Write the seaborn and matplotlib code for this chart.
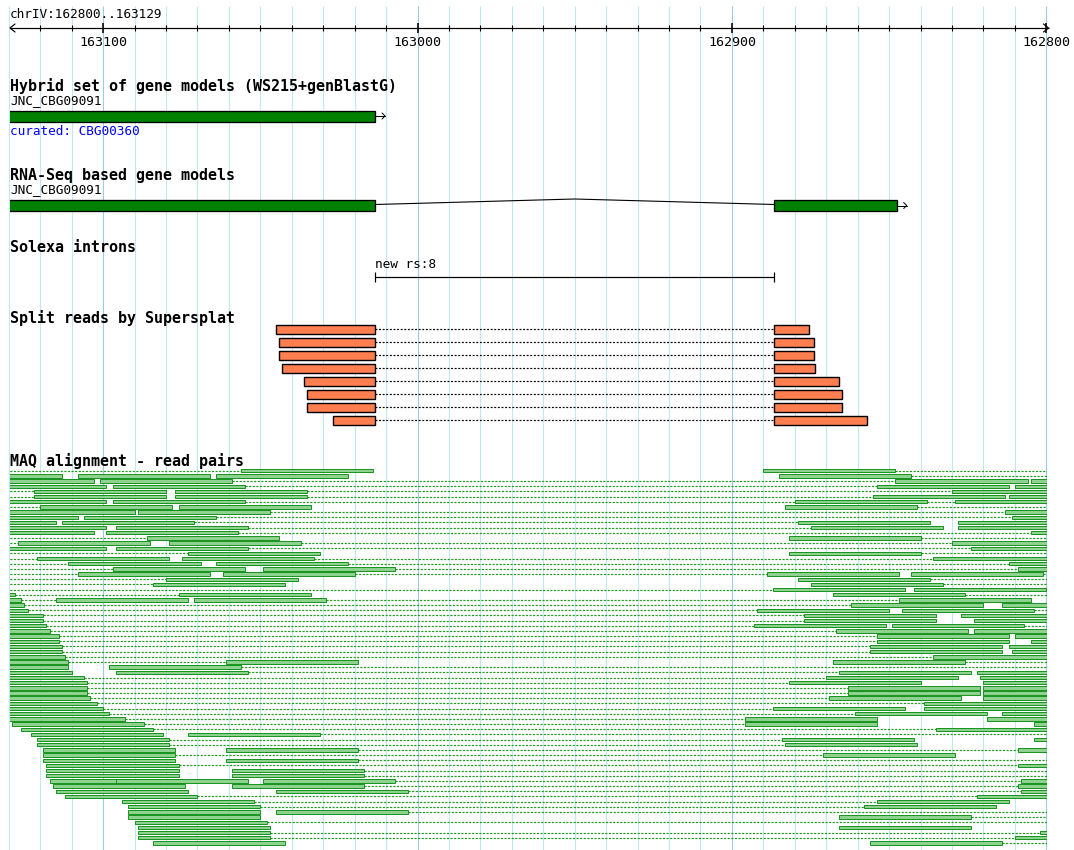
import numpy as np
import pandas as pd
import matplotlib
matplotlib.use("Agg")
import matplotlib.pyplot as plt
import seaborn as sns

# ---------------- data (genomic coordinates, chrIV, view shown reversed) ----------------
view_start = 163129.6          # left edge of the panel
view_end = 162799.8            # right edge of the panel
ruler_label = "chrIV:162800..163129"
major_ticks = [163100, 163000, 162900, 162800]
grid_positions = list(range(163130, 162799, -10))

track_titles = ["Hybrid set of gene models (WS215+genBlastG)", "RNA-Seq based gene models",
                "Solexa introns", "Split reads by Supersplat", "MAQ alignment - read pairs"]
gene_name = "JNC_CBG09091"
curated_note = "curated: CBG00360"

hybrid_exon_hi = [163140.0]
hybrid_exon_lo = [163013.5]
rnaseq_exon_hi = [163140.0, 162886.5]
rnaseq_exon_lo = [163013.5, 162847.6]

intron_name = "new rs:8"
intron_hi = 163013.5
intron_lo = 162886.5

split_left_start = [163045, 163044, 163044, 163043, 163036, 163035, 163035, 163027]
split_right_end = [162875.5, 162874, 162874, 162873.5, 162866, 162865, 162865, 162857]
split_donor = 163013.5
split_acceptor = 162886.5

read_length = 42
# MAQ reads: row index and the read's left (higher) coordinate
maq_read_row = (
    [0]*2 + [1]*4 + [2]*4 + [3]*4 + [4]*3 + [5]*4 + [6]*4 + [7]*3 + [8]*3 + [9]*3 +
    [10]*4 + [11]*4 + [12]*3 + [13]*2 + [14]*3 + [15]*3 + [16]*2 + [17]*3 + [18]*3 + [19]*3 +
    [20]*4 + [21]*2 + [22]*2 + [23]*2 + [24]*3 + [25]*4 + [26]*3 + [27]*3 + [28]*3 + [29]*3 +
    [30]*3 + [31]*3 + [32]*3 + [33]*3 + [34]*3 + [35]*3 + [36]*2 + [37]*3 + [38]*2 + [39]*4 +
    [40]*3 + [41]*3 + [42]*3 + [43]*3 + [44]*3 + [45]*2 + [46]*3 + [47]*3 + [48]*3 + [49]*3 +
    [50]*2 + [51]*2 + [52]*3 + [53]*2 + [54]*3 + [55]*2 + [56]*2 + [57]*2 + [58]*2 + [59]*2 +
    [60]*4 + [61]*3 + [62]*3 + [63]*2 + [64]*2 + [65]*2 + [66]*2 + [67]*2 + [68]*1 + [69]*2 +
    [70]*2 + [71]*2 + [72]*2
)
maq_read_end = [
    163056, 162890,
    163155, 163108, 163064, 162885,
    163145, 163101, 162848, 162805,
    163141, 163097, 162854, 162810,
    163122, 163077, 162830,
    163122, 163077, 162855, 162812,
    163141, 163097, 162880, 162829,
    163120, 163076, 162883,
    163132, 163089, 162813,
    163150, 163106, 162811,
    163157, 163113, 162879, 162828,
    163141, 163096, 162875, 162828,
    163145, 163099, 162805,
    163086, 162882,
    163127, 163079, 162830,
    163141, 163096, 162824,
    163073, 162882,
    163121, 163075, 162836,
    163111, 163064, 162812,
    163097, 163049, 162809,
    163108, 163062, 162889, 162843,
    163080, 162879,
    163084, 162875,
    162887, 162842,
    163170, 163076, 162868,
    163168, 163115, 163071, 162847,
    163167, 162862, 162814,
    163166, 162892, 162846,
    163161, 162877, 162827,
    163161, 162877, 162823,
    163160, 162893, 162849,
    163159, 162867, 162823,
    163156, 162854, 162810,
    163156, 162854, 162805,
    163155, 162856, 162812,
    163155, 162856, 162811,
    163154, 162836,
    163153, 163061, 162868,
    163153, 163098,
    163152, 163096, 162866, 162822,
    163148, 162870, 162821,
    163147, 162882, 162820,
    163147, 162863, 162820,
    163147, 162863, 162820,
    163146, 162869, 162820,
    163144, 162839,
    163142, 162887, 162839,
    163140, 162861, 162814,
    163135, 162896, 162819,
    163129, 162896, 162804,
    163126, 162835,
    163123, 163073,
    163121, 162884, 162804,
    163121, 162883,
    163119, 163061, 162809,
    163119, 162871,
    163119, 163061,
    163118, 162809,
    163118, 163059,
    163118, 163059,
    163117, 163096, 163049, 162808,
    163116, 163059, 162809,
    163115, 163045, 162808,
    163112, 162822,
    163094, 162854,
    163092, 162858,
    163092, 163045,
    163092, 162866,
    163090,
    163089, 162866,
    163089, 162802,
    163089, 162810,
    163084, 162856,
]
# MAQ mate links (dotted): row, higher coordinate, lower coordinate
maq_link_row = [0, 0, 1, 2, 3, 4, 4, 5, 5, 6, 6, 7, 7, 8, 9, 10, 11, 12, 13, 13, 14, 14, 15, 16, 16,
                17, 17, 18, 18, 19, 19, 20, 20, 20, 21, 21, 22, 22, 23, 24, 24, 25, 25, 26, 27, 27,
                28, 29, 30, 30, 31, 32, 33, 34, 35, 36, 37, 37, 38, 39, 40, 41, 42, 43, 44, 45, 46,
                47, 48, 49, 50, 51, 52, 53, 54, 55, 56, 57, 58, 59, 60, 61, 62, 63, 64, 65, 66, 67,
                68, 70, 71, 72]
maq_link_hi = [163135, 162848, 162843, 163059, 163055, 163135, 163035, 163135, 163035, 163055, 162838,
               163135, 162841, 163047, 163064, 163071, 163054, 163057, 163135, 162840, 163135, 163037,
               163054, 163135, 162840, 163135, 163033, 163135, 163022, 163135, 163007, 163135, 163020,
               162801, 163135, 162837, 163135, 162833, 163135, 163128, 162826, 163126, 163029, 163125,
               163124, 162804, 163119, 163119, 163118, 162807, 163117, 163114, 163114, 163113, 163113,
               163112, 163111, 162826, 163056, 163054, 163106, 163105, 163105, 163105, 163104, 163102,
               163100, 163098, 163093, 163087, 163084, 163031, 163079, 163079, 163019, 163077, 163019,
               163076, 163017, 163017, 163007, 163017, 163003, 163070, 163052, 163050, 163003, 162824,
               163048, 163047, 163047, 162814]
maq_link_lo = [163056, 162795, 162795, 162848, 162854, 163122, 162830, 163122, 162855, 162880, 162829,
               163120, 162795, 162813, 162811, 162879, 162875, 162805, 163086, 162795, 163127, 162830,
               162824, 163073, 162795, 163121, 162836, 163111, 162812, 163097, 162809, 163108, 162889,
               162795, 163080, 162795, 163084, 162795, 162887, 163076, 162795, 163115, 162847, 162862,
               162892, 162795, 162877, 162877, 162893, 162795, 162867, 162854, 162854, 162856, 162856,
               162836, 163061, 162795, 162795, 162866, 162870, 162882, 162863, 162863, 162869, 162839,
               162887, 162861, 162896, 162896, 162835, 162795, 162884, 162883, 162809, 162871, 162795,
               162809, 162795, 162795, 162808, 162809, 162808, 162822, 162854, 162858, 162795, 162795,
               162795, 162802, 162810, 162795]

# ---------------- styling / layout ----------------
sns.set_theme(style="white")
plt.rcParams['font.family'] = ['DejaVu Sans Mono', 'DejaVu Sans']

W, H = 1074, 850
fig = plt.figure(figsize=(W / 100, H / 100), dpi=100)
fig.patch.set_facecolor("white")
ax = fig.add_axes([10 / W, 0, 1037 / W, 1])
ax.set_xlim(view_start, view_end)
ax.set_ylim(H, 0)
ax.axis("off")
PX = (view_start - view_end) / 1037.0   # bp per pixel
LW = 0.72                               # one pixel in points

bold_fs = 10.8
small_fs = 9.2

# grid lines
for g in grid_positions:
    col = "#9ccbe8" if g % 100 == 0 else "#bfe9f0"
    ax.vlines(g, 6, H, colors=col, lw=1.1 * LW, zorder=0, clip_on=False)

# ruler
ry = 28
ax.hlines(ry, view_start, view_end - 1.5 * PX, colors="black", lw=LW * 1.2, clip_on=False, zorder=3)
ax.plot([view_start - 5 * PX, view_start, view_start - 5 * PX], [ry - 4, ry, ry + 4],
        color="black", lw=LW * 1.2, clip_on=False, zorder=3)
tip = view_end - 1.5 * PX
ax.plot([tip + 5 * PX, tip, tip + 5 * PX], [ry - 4, ry, ry + 4],
        color="black", lw=LW * 1.2, clip_on=False, zorder=3)
minor = [g for g in grid_positions if g % 100 != 0 and view_end < g < view_start]
ax.vlines(minor, ry - 3, ry + 3, colors="black", lw=LW * 1.1, zorder=3)
ax.vlines(major_ticks, ry - 5, ry + 5, colors="black", lw=LW * 1.6, zorder=3, clip_on=False)
for t in major_ticks:
    ax.text(t, 42, str(t), ha="center", va="center", fontsize=9.6, color="black")
ax.text(view_start, 14, ruler_label, ha="left", va="center", fontsize=small_fs, color="black")

# ---- Hybrid gene models ----
ax.text(view_start, 86, track_titles[0], ha="left", va="center", fontsize=bold_fs,
        fontweight="bold", color="black")
ax.text(view_start, 101, gene_name, ha="left", va="center", fontsize=small_fs, color="black")
hy = 116
ax.barh([hy] * len(hybrid_exon_hi), np.array(hybrid_exon_hi) - np.array(hybrid_exon_lo),
        left=hybrid_exon_lo, height=11, color="#008000", edgecolor="black", lw=LW * 1.3, zorder=4)
a0 = hybrid_exon_lo[-1]
ax.plot([a0, a0 - 10 * PX], [hy, hy], color="black", lw=LW, zorder=4)
ax.plot([a0 - 7 * PX, a0 - 10 * PX, a0 - 7 * PX], [hy - 3, hy, hy + 3], color="black", lw=LW, zorder=4)
ax.text(view_start, 131, curated_note, ha="left", va="center", fontsize=small_fs, color="#0000ff")

# ---- RNA-Seq gene models ----
ax.text(view_start, 175, track_titles[1], ha="left", va="center", fontsize=bold_fs,
        fontweight="bold", color="black")
ax.text(view_start, 190, gene_name, ha="left", va="center", fontsize=small_fs, color="black")
rgy = 205.5
ax.barh([rgy] * len(rnaseq_exon_hi), np.array(rnaseq_exon_hi) - np.array(rnaseq_exon_lo),
        left=rnaseq_exon_lo, height=11, color="#008000", edgecolor="black", lw=LW * 1.3, zorder=4)
hat = pd.DataFrame({"pos": [rnaseq_exon_lo[0], (rnaseq_exon_lo[0] + rnaseq_exon_hi[1]) / 2, rnaseq_exon_hi[1]],
                    "y": [rgy - 1, rgy - 6.5, rgy - 1]})
sns.lineplot(data=hat, x="pos", y="y", ax=ax, color="black", lw=LW * 1.1, sort=False,
             estimator=None, legend=False, zorder=3)
a1 = rnaseq_exon_lo[-1]
ax.plot([a1, a1 - 10 * PX], [rgy, rgy], color="black", lw=LW, zorder=4)
ax.plot([a1 - 7 * PX, a1 - 10 * PX, a1 - 7 * PX], [rgy - 3, rgy, rgy + 3], color="black", lw=LW, zorder=4)

# ---- Solexa introns ----
ax.text(view_start, 247, track_titles[2], ha="left", va="center", fontsize=bold_fs,
        fontweight="bold", color="black")
ax.text(intron_hi, 264, intron_name, ha="left", va="center", fontsize=small_fs, color="black")
ax.hlines(277, intron_hi, intron_lo, colors="black", lw=LW * 1.2, zorder=4)
ax.vlines([intron_hi, intron_lo], 272, 282, colors="black", lw=LW * 1.2, zorder=4)

# ---- Split reads ----
ax.text(view_start, 318, track_titles[3], ha="left", va="center", fontsize=bold_fs,
        fontweight="bold", color="black")
sy = 329 + 13 * np.arange(len(split_left_start))
ax.hlines(sy, split_donor, split_acceptor, colors="black", lw=LW * 1.2,
          linestyles=(0, (1.6, 1.4)), zorder=3)
ax.barh(sy, np.array(split_left_start) - split_donor, left=split_donor, height=9,
        color="#ff7f50", edgecolor="black", lw=LW * 1.4, zorder=4)
ax.barh(sy, split_acceptor - np.array(split_right_end), left=split_right_end, height=9,
        color="#ff7f50", edgecolor="black", lw=LW * 1.4, zorder=4)

# ---- MAQ read pairs ----
ax.text(view_start, 461, track_titles[4], ha="left", va="center", fontsize=bold_fs,
        fontweight="bold", color="black")
row_y0, row_dy = 470.7, 5.17
ly = row_y0 + row_dy * np.array(maq_link_row)
ax.hlines(ly, maq_link_hi, maq_link_lo, colors="#1f9a1f", lw=LW * 1.2,
          linestyles=(0, (1.8, 1.2)), zorder=3)
reads = pd.DataFrame({"row": maq_read_row, "end": maq_read_end})
ry_ = row_y0 + row_dy * reads["row"].to_numpy()
ax.barh(ry_, read_length, left=reads["end"].to_numpy() - read_length, height=3.4,
        color="#8fd18f", edgecolor="#12911a", lw=LW * 0.95, zorder=4)

fig.savefig("out.png", dpi=100, facecolor="white")
